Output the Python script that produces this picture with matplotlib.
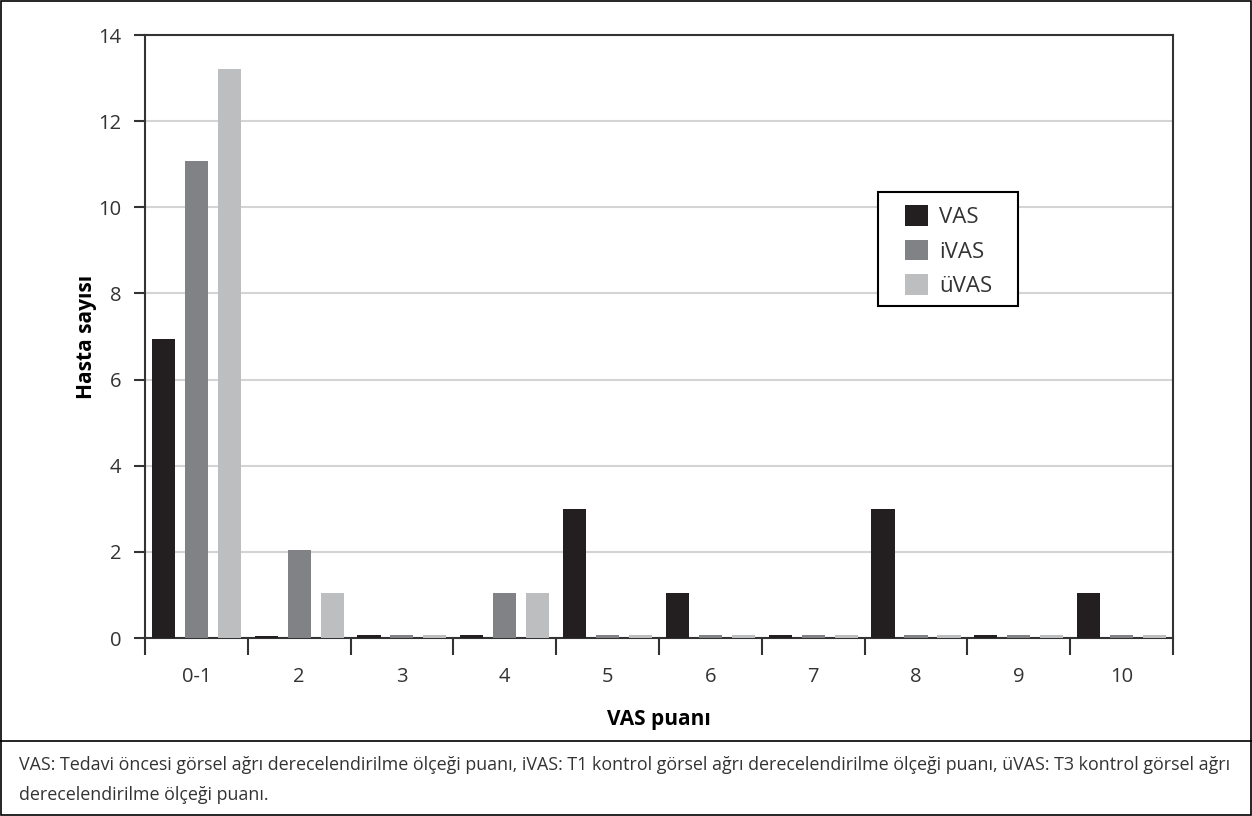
import matplotlib.pyplot as plt
from matplotlib.lines import Line2D
from matplotlib.patches import Rectangle
import numpy as np

plt.rcParams['font.family'] = ['Open Sans', 'DejaVu Sans']

categories = ['0-1', '2', '3', '4', '5', '6', '7', '8', '9', '10']
vas = [6.95, 0.05, 0.07, 0.07, 3.0, 1.05, 0.07, 3.0, 0.07, 1.05]
ivas = [11.08, 2.05, 0.07, 1.05, 0.07, 0.07, 0.07, 0.07, 0.07, 0.07]
uvas = [13.2, 1.05, 0.07, 1.05, 0.07, 0.07, 0.07, 0.07, 0.07, 0.07]
series_names = ['VAS', 'iVAS', 'üVAS']
colors = ['#231f20', '#808285', '#bcbec0']

caption = ("VAS: Tedavi öncesi görsel ağrı derecelendirilme ölçeği puanı, iVAS: T1 kontrol görsel ağrı "
           "derecelendirilme ölçeği puanı, üVAS: T3 kontrol görsel ağrı\nderecelendirilme ölçeği puanı.")

fig = plt.figure(figsize=(12.52, 8.16), dpi=100)
ax = fig.add_axes([0.1158, 0.2181, 0.8211, 0.739])

x = np.arange(len(categories))
width = 0.224
step = 0.321
for i, (vals, name, col) in enumerate(zip([vas, ivas, uvas], series_names, colors)):
    ax.bar(x + (i - 1) * step, vals, width=width, color=col, label=name, zorder=3)

ax.set_xlim(-0.5, len(categories) - 0.5)
ax.set_ylim(0, 14)
ax.set_yticks(range(0, 15, 2))
ax.yaxis.grid(True, color='#d4d4d4', linewidth=1.5, zorder=0)
ax.set_axisbelow(True)

# category labels centered, ticks at the boundaries
ax.set_xticks(x)
ax.set_xticklabels(categories, fontsize=14.5, color='#333333')
ax.tick_params(axis='x', which='major', length=0, pad=21)
ax.set_xticks(np.arange(-0.5, len(categories)), minor=True)
ax.tick_params(axis='x', which='minor', length=12, width=1.5, color='#333333', direction='out')
ax.tick_params(axis='y', length=8, width=1.5, color='#333333', labelsize=14.5,
               labelcolor='#333333', pad=9)

for s in ax.spines.values():
    s.set_linewidth(1.5)
    s.set_color('#333333')

ax.set_ylabel('Hasta sayısı', fontsize=15, fontweight='bold', labelpad=1)
ax.set_xlabel('VAS puanı', fontsize=15, fontweight='bold', labelpad=16)

# legend: entries without frame, box drawn separately
leg = ax.legend(loc='upper left', bbox_to_anchor=(0.7393, 0.7176), fontsize=16, frameon=False,
                handlelength=1.05, handleheight=1.05, handletextpad=0.5,
                borderpad=0, labelspacing=0.52, borderaxespad=0)
for t in leg.get_texts():
    t.set_color('#333333')
ax.add_patch(Rectangle((0.7130, 0.5498), 0.8492 - 0.7130, 0.7392 - 0.5498, transform=ax.transAxes,
                       fill=True, facecolor='white', edgecolor='black', linewidth=1.5, zorder=4))
leg.set_zorder(5)

fig.text(0.015, 1 - 756 / 816, caption, fontsize=12.9, va='top', ha='left', linespacing=1.85,
         color='#333333')

# separator line and outer frame
fig.add_artist(Line2D([0, 1], [1 - 741 / 816] * 2, color='black', linewidth=1.2))
fig.add_artist(Rectangle((0.0008, 0.0012), 0.9984, 0.9976, fill=False,
                         edgecolor='black', linewidth=1.2, transform=fig.transFigure))

fig.savefig('out.png', dpi=100)
